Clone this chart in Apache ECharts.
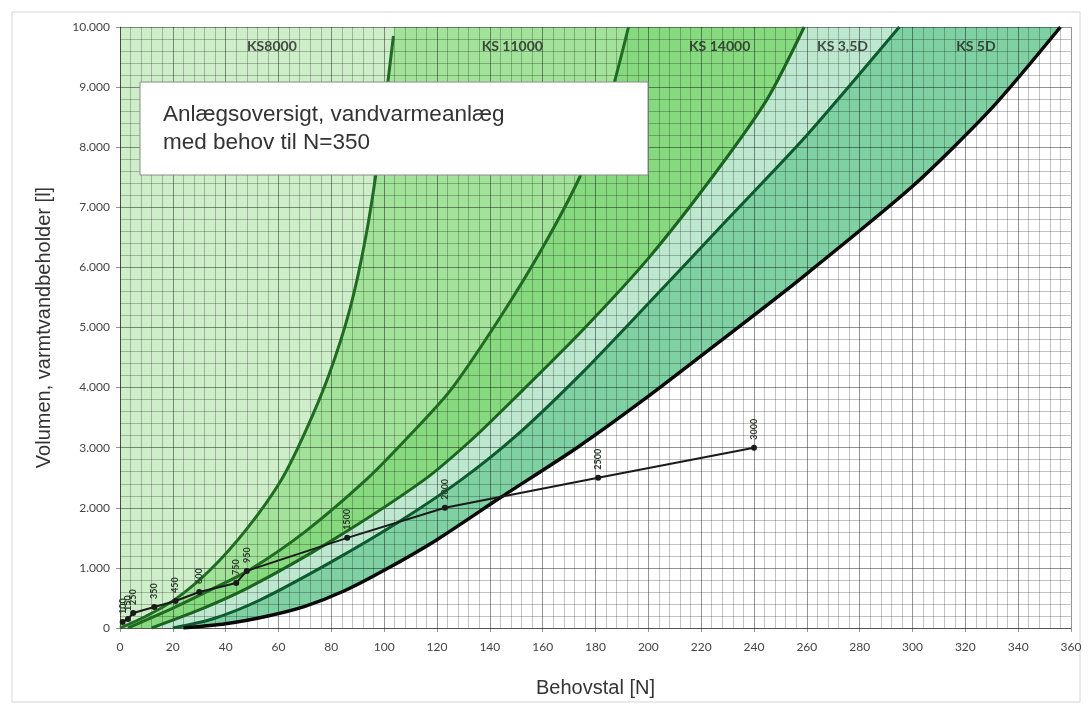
<!DOCTYPE html>
<html>
<head>
<meta charset="utf-8">
<script src="https://cdn.jsdelivr.net/npm/echarts@6/dist/echarts.min.js"></script>
<style>
  html, body { margin: 0; padding: 0; background: #fff; }
  #chart { width: 1090px; height: 709px; }
</style>
</head>
<body>
<div id="chart"></div>
<script>
// grænsekurver [N, liter] for hver anlægstype
const curveKS8000 = [[0, 0], [10, 200], [21, 480], [34, 960], [48, 1650], [61, 2460], [70, 3250], [79, 4200], [87, 5300], [93, 6500], [98, 7900], [103.5, 9850]];
const curveKS11000 = [[3, 0], [20, 330], [35, 650], [49, 965], [70, 1600], [93, 2460], [108, 3128], [125, 3950], [144, 5175], [160, 6330], [174, 7500], [184, 8600], [192.5, 10000]];
const curveKS14000 = [[12, 0], [30, 300], [49, 680], [80, 1450], [115, 2460], [133, 3128], [150, 3850], [175, 4950], [200, 6150], [225, 7550], [245, 8800], [259, 10000]];
const curveKS35D = [[20, 0], [35, 150], [53, 466], [80, 1100], [105, 1750], [129, 2460], [150, 3200], [175, 4250], [200, 5400], [230, 6800], [260, 8200], [295, 10000]];
const curveKS5D = [[24, 0], [40, 70], [56, 200], [70, 360], [85, 620], [100, 960], [120, 1470], [144, 2170], [173, 3000], [198, 3790], [228, 4800], [257, 5790], [300, 7350], [330, 8650], [356, 10000]];

// dimensioneringslinje: behovstal og volumen
const dimN = [1, 3, 5, 13, 21, 30, 44, 48, 86, 123, 181, 240];
const dimV = [100, 150, 250, 350, 450, 600, 750, 950, 1500, 2000, 2500, 3000];

const regionNames = ['KS8000', 'KS 11000', 'KS 14000', 'KS 3,5D', 'KS 5D'];
const regionLabelN = [57.5, 148.5, 227, 273.5, 324];
const regionLabelV = 9670;

const Y_MAX = 10000;
const curves = [curveKS8000, curveKS11000, curveKS14000, curveKS35D, curveKS5D];
const regionColors = ['#cdeec8', '#a3e29b', '#86d97f', '#bde8cf', '#7fd0a2'];
const lineColors = ['#1f6b22', '#1f6b22', '#1a6420', '#0e5a30', '#0a0a0a'];

// polygon mellem forrige kurve (eller y-aksen) og denne kurve
const regionPolygon = i => {
  const right = curves[i];
  const left = i === 0 ? [[0, 0], [0, Y_MAX]] : curves[i - 1];
  const pts = right.slice();
  const rTop = right[right.length - 1];
  if (rTop[1] < Y_MAX) pts.push([rTop[0], Y_MAX]);
  const lTop = left[left.length - 1];
  if (lTop[1] < Y_MAX) pts.push([lTop[0], Y_MAX]);
  for (let k = left.length - 1; k >= 0; k--) pts.push(left[k]);
  return pts;
};

const gridMajor = 'rgba(0,0,0,0.42)';
const gridMinor = 'rgba(0,0,0,0.24)';

const myChart = echarts.init(document.getElementById('chart'));

const series = [
  {
    type: 'custom',
    z: 1,
    silent: true,
    data: regionColors.map((c, i) => [i, 0]),
    renderItem: (params, api) => {
      const i = params.dataIndex;
      const points = regionPolygon(i).map(p => api.coord(p));
      return { type: 'polygon', shape: { points }, style: { fill: regionColors[i] } };
    },
  },
];

curves.forEach((c, i) => {
  series.push({
    type: 'line',
    data: c,
    showSymbol: false,
    smooth: 0.25,
    silent: true,
    z: 5,
    lineStyle: { color: lineColors[i], width: i === 4 ? 3.5 : 3 },
  });
});

series.push({
  type: 'line',
  data: dimN.map((n, k) => [n, dimV[k]]),
  symbol: 'circle',
  symbolSize: 6,
  z: 6,
  silent: true,
  lineStyle: { color: '#1a1a1a', width: 2 },
  itemStyle: { color: '#1a1a1a' },
  label: {
    show: true,
    formatter: p => p.value[1],
    rotate: 90,
    position: 'top',
    distance: 5,
    align: 'left',
    verticalAlign: 'middle',
    fontSize: 9,
    fontWeight: 'bold',
    color: '#2a3a2a',
    fontFamily: 'Lato',
  },
});

series.push({
  type: 'scatter',
  data: regionLabelN.map(n => [n, regionLabelV]),
  symbolSize: 0,
  z: 7,
  silent: true,
  label: {
    show: true,
    position: 'inside',
    formatter: p => regionNames[p.dataIndex],
    fontSize: 14,
    fontWeight: 'bold',
    color: '#222',
    fontFamily: 'Lato',
  },
});

const option = {
  animation: false,
  grid: { left: 120, right: 19, top: 27, bottom: 81 },
  xAxis: {
    type: 'value',
    min: 0,
    max: 360,
    interval: 20,
    z: 3,
    name: 'Behovstal [N]',
    nameLocation: 'middle',
    nameGap: 50,
    nameTextStyle: { fontSize: 20, color: '#333', fontFamily: 'Liberation Sans' },
    axisLine: { show: true, lineStyle: { color: gridMajor } },
    axisTick: { show: true, length: 4, lineStyle: { color: gridMajor } },
    axisLabel: { fontSize: 12, color: '#444', margin: 13, fontFamily: 'Lato' },
    splitLine: { show: true, lineStyle: { color: gridMajor, width: 1 } },
    minorTick: { show: false, splitNumber: 5 },
    minorSplitLine: { show: true, lineStyle: { color: gridMinor, width: 1 } },
  },
  yAxis: {
    type: 'value',
    min: 0,
    max: Y_MAX,
    interval: 1000,
    z: 3,
    name: 'Volumen, varmtvandbeholder [l]',
    nameLocation: 'middle',
    nameGap: 66,
    nameTextStyle: { fontSize: 20, color: '#333', fontFamily: 'Liberation Sans' },
    axisLine: { show: true, lineStyle: { color: gridMajor } },
    axisTick: { show: true, length: 4, lineStyle: { color: gridMajor } },
    axisLabel: {
      fontSize: 12,
      color: '#444',
      margin: 10,
      fontFamily: 'Lato',
      formatter: v => (v === 0 ? '0' : v / 1000 + '.000'),
    },
    splitLine: { show: true, lineStyle: { color: gridMajor, width: 1 } },
    minorTick: { show: false, splitNumber: 5 },
    minorSplitLine: { show: true, lineStyle: { color: gridMinor, width: 1 } },
  },
  graphic: [
    {
      type: 'rect',
      z: 0,
      silent: true,
      shape: { x: 12, y: 12, width: 1068, height: 690 },
      style: { fill: 'none', stroke: '#d4d4d4', lineWidth: 1 },
    },
    {
      type: 'rect',
      z: 20,
      silent: true,
      shape: { x: 140, y: 82, width: 508, height: 93 },
      style: { fill: '#ffffff', stroke: '#8a8a8a', lineWidth: 1 },
    },
    {
      type: 'text',
      z: 21,
      silent: true,
      left: 163,
      top: 101,
      style: {
        text: 'Anlægsoversigt, vandvarmeanlæg\nmed behov til N=350',
        font: '22.5px "Liberation Sans", Arial, sans-serif',
        lineHeight: 28,
        fill: '#333',
      },
    },
  ],
  series,
};

myChart.setOption(option);
</script>
</body>
</html>
